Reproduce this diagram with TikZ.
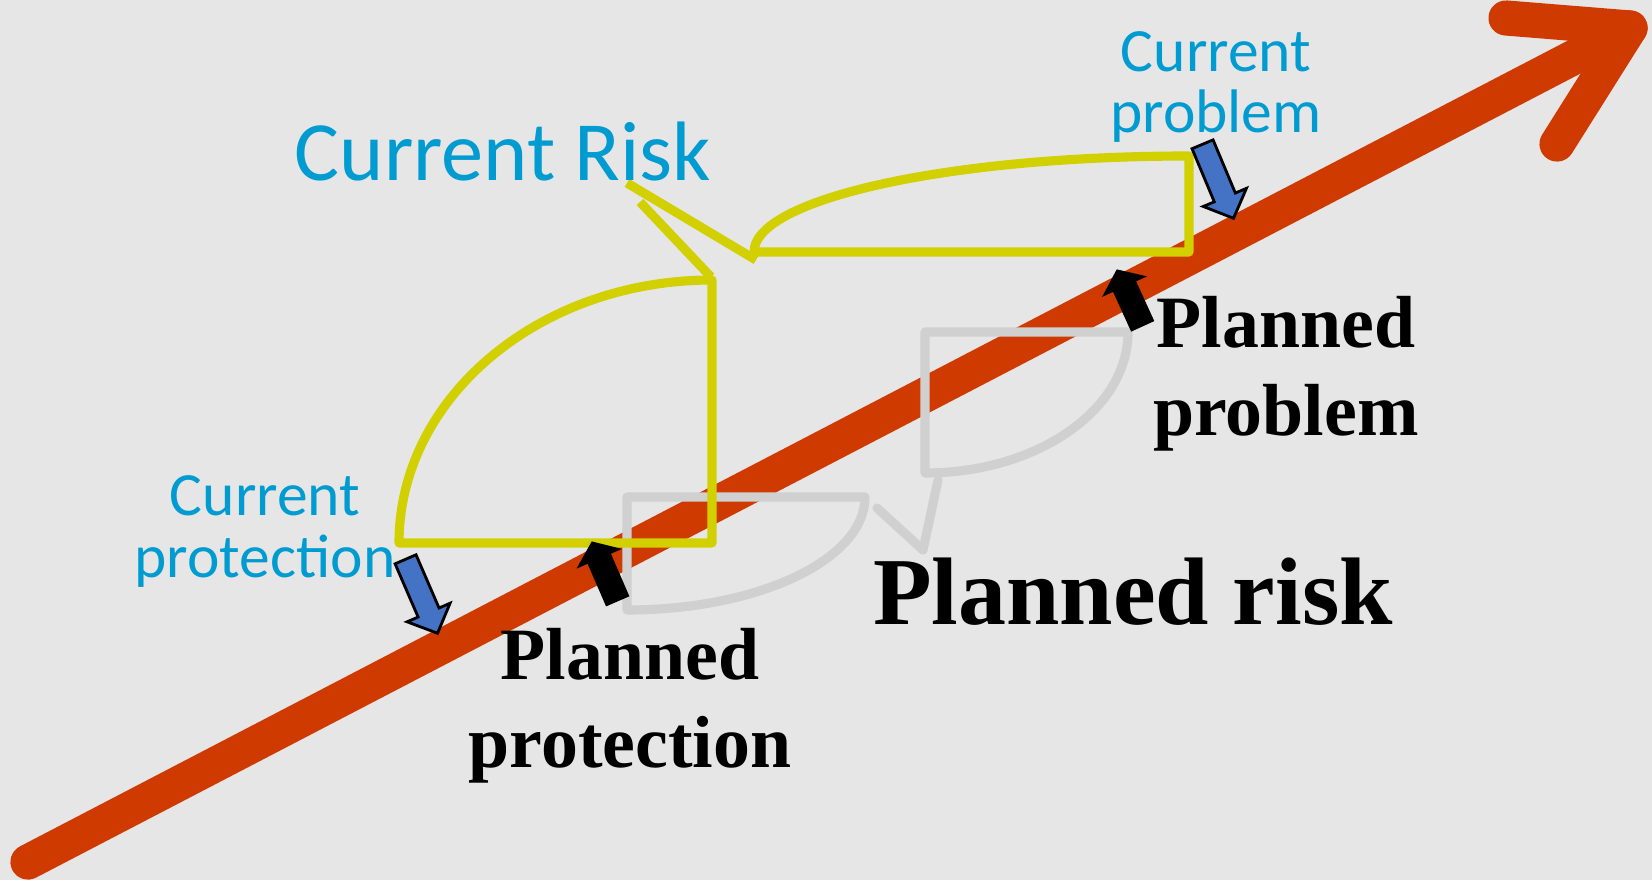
\documentclass[tikz,border=0pt]{standalone}
\usepackage{fontspec}
\setmainfont{Liberation Serif}
\newfontfamily\calibfont{Carlito}
\usepackage{xcolor}
\definecolor{bgcol}{RGB}{230,230,230}
\definecolor{redcol}{RGB}{207,58,0}
\definecolor{yellowcol}{RGB}{210,208,0}
\definecolor{graycol}{RGB}{208,208,208}
\definecolor{textblue}{RGB}{0,155,208}
\definecolor{arrowblue}{RGB}{68,114,196}
\usepackage{tikz}
\usetikzlibrary{calc,shapes.arrows}

\begin{document}
\begin{tikzpicture}[timeline/.style={redcol, line width=10pt, line cap=round, line join=round},
  nowshape/.style={yellowcol, line width=2.6pt, line join=round},
  planshape/.style={graycol, line width=2.6pt, line join=round, line cap=round},
  nowlabel/.style={textblue, font=\calibfont\fontsize{17.5}{17.5}\selectfont, align=center, anchor=base, inner sep=0pt},
  planlabel/.style={font=\bfseries\fontsize{21}{24.8}\selectfont, align=center, anchor=base, inner sep=0pt},
  bluearrow/.style={single arrow, fill=arrowblue, draw=black, line width=0.8pt, inner xsep=0pt, inner ysep=0.1cm, single arrow head extend=0.12cm, single arrow tip angle=92, minimum width=0pt},
  blackarrow/.style={single arrow, fill=black, inner xsep=0pt, inner ysep=0.12cm, single arrow head extend=0.12cm, single arrow tip angle=105, minimum width=0pt}]
  % background, fixes the size
  \fill[bgcol] (0,0) rectangle (16.52,8.80);
  \useasboundingbox (0,0) rectangle (16.52,8.80);

  % the time line
  \coordinate (start) at (0.28,0.18);
  \coordinate (tip) at (16.30,8.52);
  \draw[timeline] (start) -- (tip);
  \draw[timeline] (15.06,8.62) -- (tip) -- (15.57,7.36);

  % planned (gray) shapes
  \draw[planshape] (6.27,3.83) -- (8.65,3.83) arc[start angle=0, end angle=-90, x radius=2.38cm, y radius=1.13cm] -- cycle;
  \draw[planshape] (9.25,5.48) -- (11.28,5.48) arc[start angle=0, end angle=-90, x radius=2.03cm, y radius=1.41cm] -- cycle;
  \draw[planshape] (9.38,4.00) -- (9.23,3.30) -- (8.77,3.72);

  % current (yellow) shapes
  \draw[nowshape] (7.12,3.37) -- (3.99,3.37) arc[start angle=180, end angle=90, x radius=3.13cm, y radius=2.63cm] -- cycle;
  \draw[nowshape] (11.89,6.28) -- (7.54,6.28) arc[start angle=180, end angle=90, x radius=4.35cm, y radius=0.96cm] -- cycle;
  \draw[nowshape] (7.11,6.03) -- (6.40,6.78);
  \draw[nowshape] (6.27,6.97) -- (7.56,6.20);

  % labels (base = last line)
  \node[textblue, font=\calibfont\fontsize{24}{24}\selectfont, anchor=base, inner sep=0pt] (risknow) at (5.03,6.99) {Current Risk};
  \node[nowlabel] (probnow) at (12.16,7.47) {Current\\problem};
  \node[nowlabel] (protnow) at (2.65,3.03) {Current\\protection};
  \node[planlabel, font=\bfseries\fontsize{27.3}{30}\selectfont] (riskplan) at (11.33,2.56) {Planned risk};
  \node[planlabel] (probplan) at (12.86,4.45) {Planned\\problem};
  \node[planlabel] (protplan) at (6.30,1.13) {Planned\\protection};

  % arrow ends
  \coordinate (probnow-tail) at (12.02,7.37);
  \coordinate (probnow-tip) at (12.33,6.63);
  \coordinate (protnow-tail) at (4.05,3.22);
  \coordinate (protnow-tip) at (4.37,2.48);
  \coordinate (protplan-tail) at (6.18,2.78);
  \coordinate (protplan-tip) at (5.92,3.38);
  \coordinate (probplan-tail) at (11.43,5.53);
  \coordinate (probplan-tip) at (11.17,6.10);

  \foreach \from/\to in {probnow-tail/probnow-tip, protnow-tail/protnow-tip}
    \path let \p1=($(\to)-(\from)$), \n1={atan2(\y1,\x1)}, \n2={veclen(\x1,\y1)} in
      node[bluearrow, rotate=\n1, minimum height=\n2, anchor=tail] at (\from) {};
  \foreach \from/\to in {protplan-tail/protplan-tip, probplan-tail/probplan-tip}
    \path let \p1=($(\to)-(\from)$), \n1={atan2(\y1,\x1)}, \n2={veclen(\x1,\y1)} in
      node[blackarrow, rotate=\n1, minimum height=\n2, anchor=tail] at (\from) {};
\end{tikzpicture}
\end{document}
